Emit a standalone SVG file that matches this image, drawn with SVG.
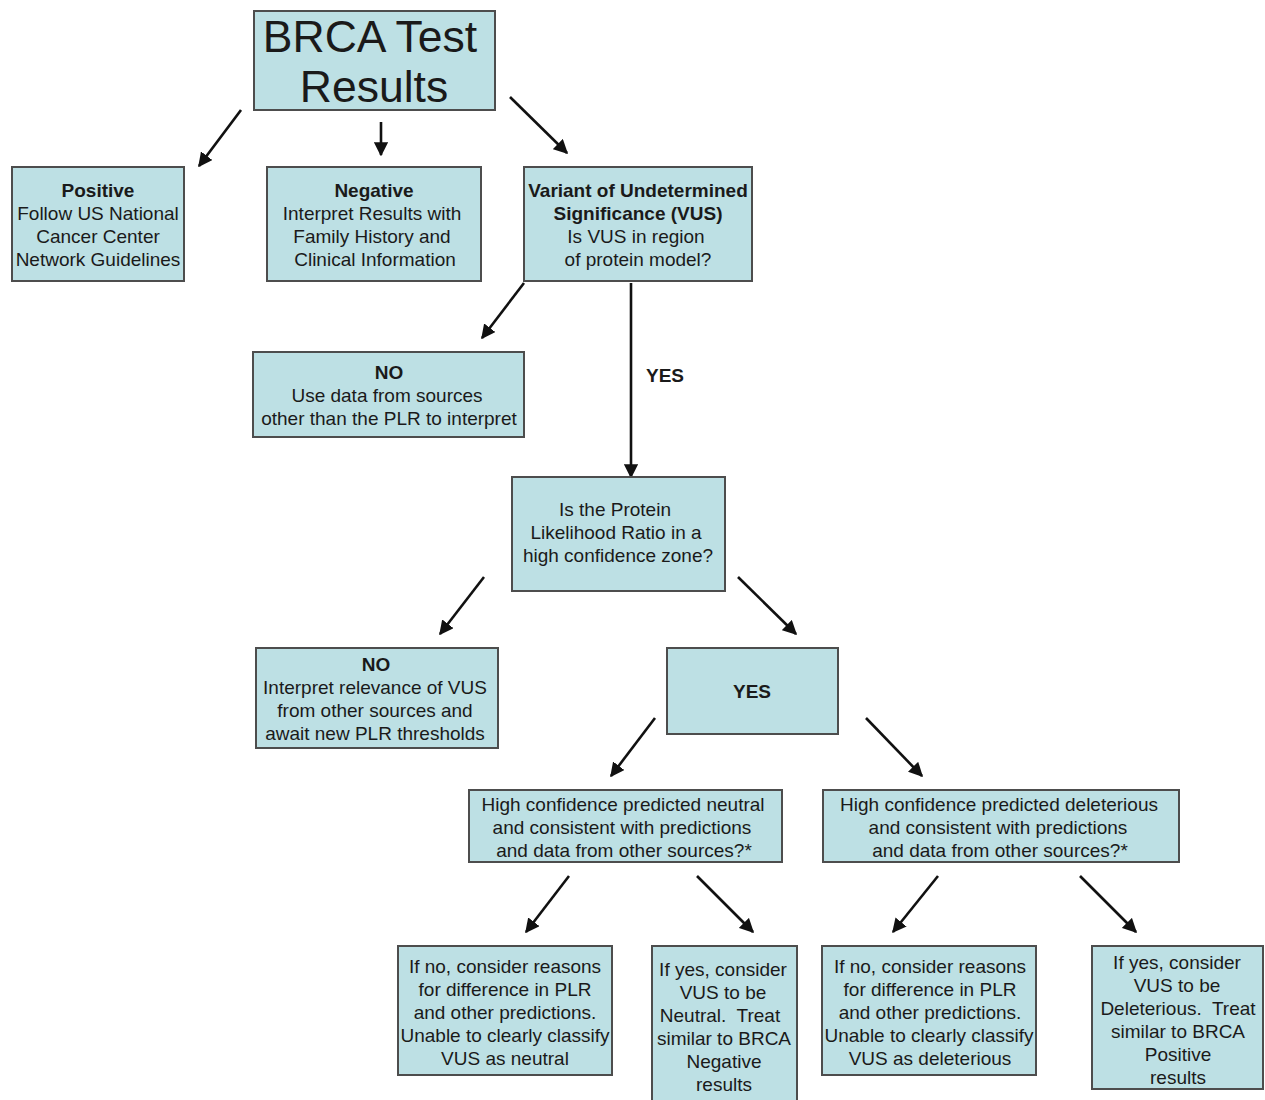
<svg xmlns="http://www.w3.org/2000/svg" width="1265" height="1100" viewBox="0 0 1265 1100">
<style>
.box{fill:#bde0e4;stroke:#4d4d4d;stroke-width:2}
text{font-family:"Liberation Sans",Arial,sans-serif;font-size:19px;fill:#1a1a1a;text-anchor:middle}
.b{font-weight:bold}
.t{font-size:44.5px}
.c line{stroke:#111;stroke-width:2.6;marker-end:url(#ah)}
</style>
<defs>
<marker id="ah" viewBox="0 0 10 10" refX="9" refY="5" markerWidth="5.5" markerHeight="5.5" orient="auto" markerUnits="strokeWidth">
<path d="M0,0 L10,5 L0,10 z" fill="#111"/>
</marker>
</defs>
<rect width="1265" height="1100" fill="#fff"/>
<g id="connectors" class="c">
<line x1="241" y1="110" x2="199" y2="166"/>
<line x1="381" y1="122" x2="381" y2="155"/>
<line x1="510" y1="97" x2="567" y2="153"/>
<line x1="524" y1="283" x2="482" y2="338"/>
<line x1="631" y1="283" x2="631" y2="477"/>
<line x1="484" y1="577" x2="440" y2="634"/>
<line x1="738" y1="577" x2="796" y2="634"/>
<line x1="655" y1="718" x2="611" y2="776"/>
<line x1="866" y1="718" x2="922" y2="776"/>
<line x1="569" y1="876" x2="526" y2="932"/>
<line x1="697" y1="876" x2="753" y2="932"/>
<line x1="938" y1="876" x2="893" y2="932"/>
<line x1="1080" y1="876" x2="1136" y2="932"/>
<text x="665" y="382" class="b">YES</text>
</g>
<g id="title"><rect class="box" x="254" y="11" width="241" height="99"/>
<text class="t" x="370" y="52">BRCA Test</text><text class="t" x="374" y="102">Results</text></g>
<g id="positive"><rect class="box" x="12" y="167" width="172" height="114"/>
<text x="98" y="197" class="b">Positive</text><text x="98" y="220">Follow US National</text><text x="98" y="243">Cancer Center</text><text x="98" y="266">Network Guidelines</text></g>
<g id="negative"><rect class="box" x="267" y="167" width="214" height="114"/>
<text x="374" y="197" class="b">Negative</text><text x="372" y="220">Interpret Results with</text><text x="372" y="243">Family History and</text><text x="375" y="266">Clinical Information</text></g>
<g id="vus"><rect class="box" x="524" y="167" width="228" height="114"/>
<text x="638" y="197" class="b">Variant of Undetermined</text><text x="638" y="220" class="b">Significance (VUS)</text><text x="636" y="243">Is VUS in region</text><text x="638" y="266">of protein model?</text></g>
<g id="no1"><rect class="box" x="253" y="352" width="271" height="85"/>
<text x="389" y="379" class="b">NO</text><text x="387" y="402">Use data from sources</text><text x="389" y="425">other than the PLR to interpret</text></g>
<g id="plr"><rect class="box" x="512" y="477" width="213" height="114"/>
<text x="615" y="516">Is the Protein</text><text x="616" y="539">Likelihood Ratio in a</text><text x="618" y="562">high confidence zone?</text></g>
<g id="no2"><rect class="box" x="256" y="648" width="242" height="100"/>
<text x="376" y="671" class="b">NO</text><text x="375" y="694">Interpret relevance of VUS</text><text x="375" y="717">from other sources and</text><text x="375" y="740">await new PLR thresholds</text></g>
<g id="yes"><rect class="box" x="667" y="648" width="171" height="86"/>
<text x="752" y="698" class="b">YES</text></g>
<g id="neutral"><rect class="box" x="469" y="790" width="313" height="72"/>
<text x="623" y="811">High confidence predicted neutral</text><text x="622" y="834">and consistent with predictions</text><text x="624" y="857">and data from other sources?*</text></g>
<g id="deleterious"><rect class="box" x="823" y="790" width="356" height="72"/>
<text x="999" y="811">High confidence predicted deleterious</text><text x="998" y="834">and consistent with predictions</text><text x="1000" y="857">and data from other sources?*</text></g>
<g id="l1"><rect class="box" x="398" y="946" width="214" height="129"/>
<text x="505" y="973">If no, consider reasons</text><text x="505" y="996">for difference in PLR</text><text x="505" y="1019">and other predictions.</text><text x="505" y="1042">Unable to clearly classify</text><text x="505" y="1065">VUS as neutral</text></g>
<g id="l2"><rect class="box" x="652" y="946" width="145" height="160"/>
<text x="723" y="976">If yes, consider</text><text x="723" y="999">VUS to be</text><text x="720" y="1022">Neutral.&#160; Treat</text><text x="724" y="1045">similar to BRCA</text><text x="724" y="1068">Negative</text><text x="724" y="1091">results</text></g>
<g id="l3"><rect class="box" x="822" y="946" width="214" height="129"/>
<text x="930" y="973">If no, consider reasons</text><text x="930" y="996">for difference in PLR</text><text x="930" y="1019">and other predictions.</text><text x="929" y="1042">Unable to clearly classify</text><text x="930" y="1065">VUS as deleterious</text></g>
<g id="l4"><rect class="box" x="1092" y="946" width="171" height="143"/>
<text x="1177" y="969">If yes, consider</text><text x="1177" y="992">VUS to be</text><text x="1178" y="1015">Deleterious.&#160; Treat</text><text x="1178" y="1038">similar to BRCA</text><text x="1178" y="1061">Positive</text><text x="1178" y="1084">results</text></g>
</svg>
